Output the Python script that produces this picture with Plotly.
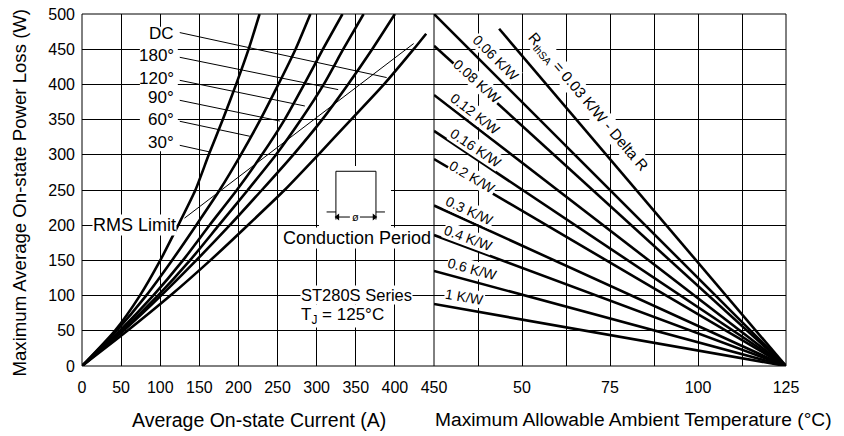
import plotly.graph_objects as go

# ---------------- data ----------------
# Left panel: average on-state current (A) at given power-loss levels (W)
P_LEVELS = [0, 50, 100, 150, 200, 250, 300, 350, 400, 450, 500]
I_30 = [0, 42, 74, 100, 123, 145, 162, 180, 197, 213, 227]
I_60 = [0, 44, 82, 115, 146, 176, 203, 228, 251, 273, 292]
I_90 = [0, 48, 91, 129, 163, 198, 230, 259, 284, 308, 333]
I_120 = [0, 51, 97, 138, 175, 212, 248, 280, 309, 334, 360]
I_180 = [0, 53, 101, 146, 189, 230, 270, 307, 340, 371, 400]
P_DC = [0, 50, 100, 150, 200, 250, 300, 350, 400, 450, 472]
I_DC = [0, 58, 113, 164, 212, 259, 302, 344, 386, 424, 440]
CURVE_NAMES = ["30°", "60°", "90°", "120°", "180°", "DC"]

# RMS limit line (A, W)
RMS_I = [131, 424]
RMS_P = [210, 458]

# Right panel: heatsink thermal resistance lines (ambient temp °C, power W)
RTH_LABELS = ["0.06 K/W", "0.08 K/W", "0.12 K/W", "0.16 K/W", "0.2 K/W",
              "0.3 K/W", "0.4 K/W", "0.6 K/W", "1 K/W"]
RTH_T_START = [25, 25, 25, 25, 25, 25, 25, 25, 25]
RTH_P_START = [500, 455, 385, 334, 294, 228, 186, 135, 88]
DELTA_T_START = [43.5]
DELTA_P_START = [479]
T_END = [125]
P_END = [0]

X1_TICKS = [0, 50, 100, 150, 200, 250, 300, 350, 400, 450]
X2_TICKS = [50, 75, 100, 125]
Y_TICKS = [0, 50, 100, 150, 200, 250, 300, 350, 400, 450, 500]

# ---------------- styling ----------------
FONT = "Liberation Sans, Arial, sans-serif"
CURVE_W = 2.6

fig = go.Figure()

curves = [I_30, I_60, I_90, I_120, I_180]
for name, cur in zip(CURVE_NAMES[:5], curves):
    fig.add_trace(go.Scatter(x=cur, y=P_LEVELS, mode="lines", name=name,
                             line=dict(color="black", width=CURVE_W, shape="spline", smoothing=0.6),
                             xaxis="x", yaxis="y", showlegend=False, hoverinfo="skip"))
fig.add_trace(go.Scatter(x=I_DC, y=P_DC, mode="lines", name="DC",
                         line=dict(color="black", width=CURVE_W, shape="spline", smoothing=0.6),
                         xaxis="x", yaxis="y", showlegend=False, hoverinfo="skip"))

for lab, t0, p0 in zip(RTH_LABELS, RTH_T_START, RTH_P_START):
    fig.add_trace(go.Scatter(x=[t0, T_END[0]], y=[p0, P_END[0]], mode="lines", name=lab,
                             line=dict(color="black", width=CURVE_W),
                             xaxis="x2", yaxis="y", showlegend=False, hoverinfo="skip"))
fig.add_trace(go.Scatter(x=[DELTA_T_START[0], T_END[0]], y=[DELTA_P_START[0], P_END[0]],
                         mode="lines", name="0.03 K/W - Delta R",
                         line=dict(color="black", width=CURVE_W),
                         xaxis="x2", yaxis="y", showlegend=False, hoverinfo="skip"))

# arrowheads of the conduction-period dimension
fig.add_trace(go.Scatter(x=[326.8, 373.6], y=[211.6, 211.6], mode="markers",
                         marker=dict(symbol=["triangle-left", "triangle-right"], size=6,
                                     color="black", line=dict(width=0)),
                         xaxis="x", yaxis="y", showlegend=False, hoverinfo="skip"))

shapes = []
def white_rect(x0, x1, y0, y1, xref="x"):
    shapes.append(dict(type="rect", xref=xref, yref="y", x0=x0, x1=x1, y0=y0, y1=y1,
                       fillcolor="white", line=dict(width=0), layer="between"))

white_rect(74, 122.5, 305, 482)      # label column
white_rect(303, 395, 193, 284)       # conduction icon

leaders = [
    ((125, 473.6), (389.5, 409.7)),   # DC
    ((125, 438.5), (327.5, 392.6)),   # 180
    ((125, 405.8), (284.9, 369.3)),   # 120
    ((125, 377.4), (253.0, 348.0)),   # 90
    ((125, 347.6), (214.6, 326.3)),   # 60
    ((125, 313.5), (163.4, 304.0)),   # 30
]
for (x0, y0), (x1, y1) in leaders:
    shapes.append(dict(type="line", xref="x", yref="y", x0=x0, y0=y0, x1=x1, y1=y1,
                       line=dict(color="black", width=1)))
shapes.append(dict(type="line", xref="x", yref="y", x0=RMS_I[0], y0=RMS_P[0], x1=RMS_I[1], y1=RMS_P[1],
                   line=dict(color="black", width=1)))

icon_lines = [
    ((312.7, 218.8), (324.6, 218.8)),
    ((324.6, 208.0), (324.6, 276.6)),
    ((324.6, 276.6), (375.8, 276.6)),
    ((375.8, 276.6), (375.8, 208.0)),
    ((375.8, 218.8), (387.3, 218.8)),
    ((327.0, 211.6), (342.5, 211.6)),
    ((355.3, 211.6), (373.5, 211.6)),
]
for (x0, y0), (x1, y1) in icon_lines:
    shapes.append(dict(type="line", xref="x", yref="y", x0=x0, y0=y0, x1=x1, y1=y1,
                       line=dict(color="black", width=1)))

shapes.append(dict(type="rect", xref="paper", yref="paper", x0=0, x1=1, y0=0, y1=1,
                   line=dict(color="black", width=1)))
shapes.append(dict(type="line", xref="paper", yref="paper", x0=0.5, x1=0.5, y0=0, y1=1,
                   line=dict(color="black", width=1)))

annotations = []
def txt(text, x, y, xref="x", yref="y", size=17, xanchor="center", yanchor="middle",
        angle=0, bg=None, align="center"):
    d = dict(text=text, x=x, y=y, xref=xref, yref=yref, showarrow=False,
             font=dict(family=FONT, size=size, color="black"), xanchor=xanchor,
             yanchor=yanchor, textangle=angle, align=align, borderpad=0)
    if bg:
        d["bgcolor"] = bg
    annotations.append(d)

label_pos = [("DC", 472), ("180°", 441), ("120°", 409), ("90°", 381), ("60°", 350), ("30°", 318)]
for t, y in label_pos:
    txt(t, 119, y, xanchor="right", size=17)

txt("RMS Limit", 122, 200, xanchor="right", size=18, bg="white")
txt("Conduction Period", 352, 182, size=18, bg="white")
txt("ST280S Series", 279, 101, xanchor="left", size=16.5, bg="white")
txt("T<sub>J</sub> = 125°C", 279, 71, xanchor="left", size=17, bg="white")
txt("ø", 349.3, 212, size=11)

rth_label_pos = [
    (42.6, 437.8, 45), (37.1, 404.4, 42), (36.7, 357.5, 37.6), (36.9, 310.0, 33.7),
    (35.9, 268.5, 30.4), (35.2, 219.7, 24.6), (34.7, 181.4, 20.4), (35.8, 137.4, 15.1),
    (33.8, 97.6, 10),
]
for lab, (x, y, a) in zip(RTH_LABELS, rth_label_pos):
    txt(lab, x, y, xref="x2", size=14, angle=a, bg="white")
txt("R<sub>thSA</sub> = 0.03 K/W - Delta R", 68.8, 374.6, xref="x2", size=15, angle=49.7, bg="white")

# plot area spans 352 px in height; titles sit ~54 px below it
txt("Average On-state Current (A)", 0.2514, -0.153, xref="paper", yref="paper", size=19.5)
txt("Maximum Allowable Ambient Temperature (°C)", 0.783, -0.153, xref="paper", yref="paper", size=19.2)
txt("Maximum Average On-state Power Loss (W)", -0.089, 0.494, xref="paper", yref="paper",
    size=18.6, angle=-90)

axis_common = dict(showgrid=True, gridcolor="black", gridwidth=1, zeroline=False,
                   showline=False, ticks="", automargin=False, ticklabeloverflow="allow",
                   tickfont=dict(family=FONT, size=16, color="black"))

# The page body adds an 8 px offset; the figure is sized/margined so that the plot
# area lands at x 82..786, y 14..366 of the 844x436 window.
fig.update_layout(
    width=836, height=428,
    margin=dict(l=74, r=58, t=6, b=70),
    paper_bgcolor="white", plot_bgcolor="white",
    xaxis=dict(domain=[0, 0.5], range=[0, 450], tickvals=X1_TICKS,
               ticktext=[str(v) for v in X1_TICKS], anchor="y", ticklabelstandoff=10,
               **axis_common),
    xaxis2=dict(domain=[0.5, 1], range=[25, 125], tickvals=X2_TICKS, anchor="y",
                ticklabelstandoff=10,
                minor=dict(tick0=25, dtick=12.5, showgrid=True, gridcolor="black", gridwidth=1),
                **axis_common),
    yaxis=dict(domain=[0, 1], range=[0, 500], tickvals=Y_TICKS, anchor="x",
               ticklabelstandoff=6, **axis_common),
    shapes=shapes,
    annotations=annotations,
    showlegend=False,
)

fig.write_html("out.html")
